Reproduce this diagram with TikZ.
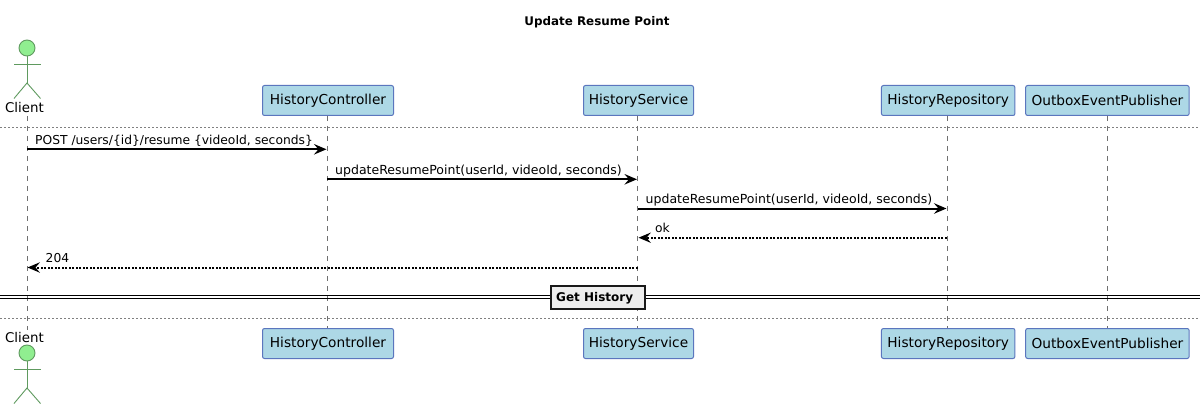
\documentclass[tikz,border=0pt]{standalone}
\usepackage{fontspec}
\setmainfont{DejaVu Sans}
\usetikzlibrary{arrows.meta}
\definecolor{boxfill}{HTML}{ADD8E6}
\definecolor{boxline}{HTML}{5B76BE}
\definecolor{actorfill}{HTML}{90EE90}
\definecolor{actorline}{HTML}{5F9A5F}
\definecolor{lifegray}{HTML}{707070}
\tikzset{
  x=1pt,y=-1pt,
  part/.style={draw=boxline,fill=boxfill,rounded corners=2pt,line width=1pt,minimum height=30pt,inner sep=0pt,text=black,font=\fontsize{13.7}{16}\selectfont},
  lifeline/.style={draw=lifegray,line width=0.8pt,dash pattern=on 5pt off 5pt},
  sep/.style={draw=gray,line width=0.7pt,dash pattern=on 2pt off 2pt},
  call/.style={draw=black,line width=2pt,-{Stealth[length=12.5pt,width=10.5pt,inset=4.5pt]}},
  ret/.style={draw=black,line width=2pt,dash pattern=on 2pt off 1.5pt,-{Stealth[length=12.5pt,width=10.5pt,inset=4.5pt,line width=0pt,sep=0pt]}},
  msg/.style={anchor=base west,inner sep=0pt,text=black,font=\fontsize{12.3}{15}\selectfont},
  msgwide/.style={anchor=base west,inner sep=0pt,text=black,font=\fontsize{12.5}{15}\selectfont},
  actorname/.style={anchor=base,inner sep=0pt,text=black,font=\fontsize{13.4}{17}\selectfont},
  limb/.style={draw=actorline,line width=0.9pt},
  head/.style={circle,draw=actorline,fill=actorfill,line width=0.9pt,minimum size=16pt,inner sep=0pt},
  divider/.style={draw=black!90,fill=black!7,line width=2pt,minimum width=94pt,minimum height=23pt,inner sep=0pt},
  dividertext/.style={inner sep=0pt,anchor=base west,font=\fontsize{12}{15}\bfseries\selectfont},
  rule/.style={draw=black,line width=1.1pt},
}
\newcommand{\actorfig}[2]{% head centre y, name prefix
  \node[head] (#2head) at (27,#1) {};
  \coordinate (#2hip) at (27,#1+35);
  \coordinate (#2armL) at (14,#1+16);
  \coordinate (#2armR) at (40.5,#1+16);
  \coordinate (#2footL) at (14,#1+50.5);
  \coordinate (#2footR) at (40.5,#1+50.5);
  \draw[limb] (#2head.south) -- (#2hip);
  \draw[limb] (#2armL) -- (#2armR);
  \draw[limb] (#2footL) -- (#2hip) -- (#2footR);
}
\begin{document}
\begin{tikzpicture}
\useasboundingbox (0,0) rectangle (1200,409);
\fill[white] (0,0) rectangle (1200,409);
% title
\node[inner sep=0pt,anchor=base,font=\fontsize{11.9}{15}\bfseries\selectfont] (title) at (597,25.5) {Update Resume Point};
% separators
\coordinate (s1a) at (0,127.5); \coordinate (s1b) at (1200,127.5);
\coordinate (s2a) at (0,318.5); \coordinate (s2b) at (1200,318.5);
\draw[sep] (s1a) -- (s1b);
\draw[sep] (s2a) -- (s2b);
% participants
\node[part,minimum width=131pt] (hc) at (328,100.5) {HistoryController};
\node[part,minimum width=110pt] (hs) at (638.5,100.5) {HistoryService};
\node[part,minimum width=133.5pt] (hr) at (948.2,100.5) {HistoryRepository};
\node[part,minimum width=163.5pt] (oe) at (1107.4,100.5) {OutboxEventPublisher};
\node[part,minimum width=131pt] (hcb) at (328,343.5) {HistoryController};
\node[part,minimum width=110pt] (hsb) at (638.5,343.5) {HistoryService};
\node[part,minimum width=133.5pt] (hrb) at (948.2,343.5) {HistoryRepository};
\node[part,minimum width=163.5pt] (oeb) at (1107.4,343.5) {OutboxEventPublisher};
% actors
\actorfig{48}{t}
\actorfig{353}{b}
\node[actorname] (cl) at (24.5,113) {Client};
\node[actorname] (clb) at (24.5,342) {Client};
% lifelines
\coordinate (l1a) at (27,116); \coordinate (l1b) at (27,330);
\coordinate (l2a) at (327,116); \coordinate (l2b) at (327,328);
\coordinate (l3a) at (637.5,116); \coordinate (l3b) at (637.5,328);
\coordinate (l4a) at (947,116); \coordinate (l4b) at (947,328);
\coordinate (l5a) at (1107,116); \coordinate (l5b) at (1107,328);
\draw[lifeline] (l1a) -- (l1b);
\draw[lifeline] (l2a) -- (l2b);
\draw[lifeline] (l3a) -- (l3b);
\draw[lifeline] (l4a) -- (l4b);
\draw[lifeline] (l5a) -- (l5b);
% group divider
\coordinate (d1a) at (0,295.5); \coordinate (d1b) at (1200,295.5);
\coordinate (d2a) at (0,298.5); \coordinate (d2b) at (1200,298.5);
\draw[rule] (d1a) -- (d1b);
\draw[rule] (d2a) -- (d2b);
\node[divider] (gh) at (597.5,297) {};
\node[dividertext] (ght) at (556,301.5) {Get History};
% messages
\coordinate (m1a) at (27,149.3); \coordinate (m1b) at (326.5,149.3);
\coordinate (m2a) at (327,179.3); \coordinate (m2b) at (637,179.3);
\coordinate (m3a) at (637.5,208.5); \coordinate (m3b) at (946.5,208.5);
\coordinate (m4a) at (946.5,237.7); \coordinate (m4b) at (638.5,237.7);
\coordinate (m5a) at (637.5,267.5); \coordinate (m5b) at (27.5,267.5);
\draw[call] (m1a) -- (m1b);
\draw[call] (m2a) -- (m2b);
\draw[call] (m3a) -- (m3b);
\draw[ret] (m4a) -- (m4b);
\draw[ret] (m5a) -- (m5b);
\node[msg] (t1) at (35,145) {POST /users/\{id\}/resume \{videoId, seconds\}};
\node[msgwide] (t2) at (335,175) {updateResumePoint(userId, videoId, seconds)};
\node[msgwide] (t3) at (645.5,204) {updateResumePoint(userId, videoId, seconds)};
\node[msg] (t4) at (655,233) {ok};
\node[msg] (t5) at (45.5,262.5) {204};
\end{tikzpicture}
\end{document}
